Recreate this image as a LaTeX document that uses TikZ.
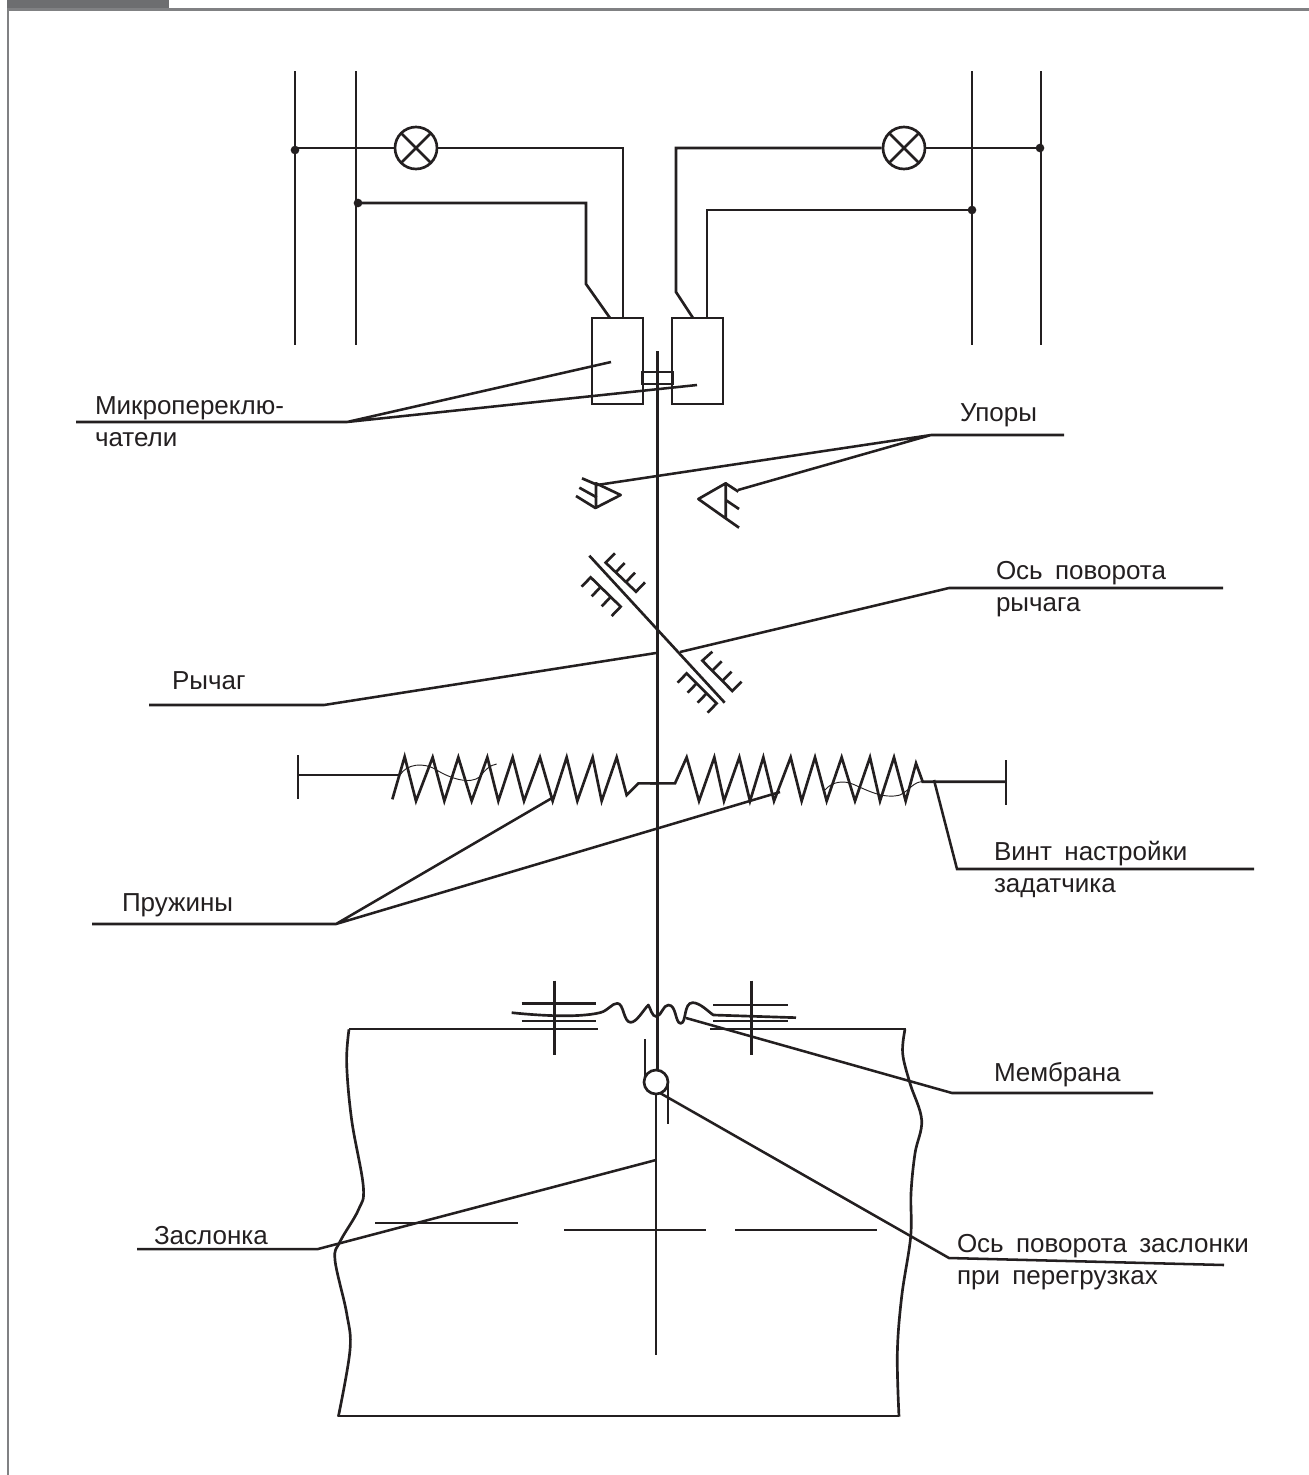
\documentclass[tikz,border=0pt]{standalone}
\usepackage{fontspec}
\setmainfont{Liberation Sans}[WordSpace=1.7]
\definecolor{ink}{HTML}{231F20}
\definecolor{band}{HTML}{6D6E70}
\definecolor{frameline}{HTML}{808183}
\tikzset{
  main/.style={draw=ink,line width=2pt,line join=miter},
  leader/.style={draw=ink,line width=1.9pt},
  thinw/.style={draw=ink,line width=0.7pt},
  lbl/.style={anchor=base west,inner sep=0pt,outer sep=0pt,text=ink,font=\fontsize{19.5}{23}\selectfont},
  lamp/.style={circle,draw=ink,line width=2pt,minimum size=31.5pt,inner sep=0pt,path picture={
     \draw[ink,line width=2pt] (path picture bounding box.south west)--(path picture bounding box.north east)
       (path picture bounding box.north west)--(path picture bounding box.south east);}},
  jdot/.style={circle,fill=ink,inner sep=0pt,minimum size=6.5pt},
  detail/.style={scale=0.33333}
}
\begin{document}
\begin{tikzpicture}[x=0.75pt,y=-0.75pt]
\useasboundingbox (0,0) rectangle (1309,1475);
% page frame
\fill[band] (6.5,0) rectangle (169,8);
\draw[frameline,line width=2.1pt] (8,1475)--(8,9.3)--(1309,9.3);
% rails
\draw[main] (295,71)--(295,345) (356,71)--(356,345) (972,71)--(972,345) (1041,71)--(1041,345);
% lamps
\node[lamp] (lampL) at (416,148) {};
\node[lamp] (lampR) at (904,148) {};
\node[jdot] (d1) at (295,150) {};
\node[jdot] (d2) at (358,203) {};
\node[jdot] (d3) at (1040,148) {};
\node[jdot] (d4) at (972,210) {};
% switches
\node[main,draw,minimum width=38.25pt,minimum height=64.5pt,inner sep=0pt] (swL) at (617.5,361) {};
\node[main,draw,minimum width=38.25pt,minimum height=64.5pt,inner sep=0pt] (swR) at (697.5,361) {};
\node[main,draw,minimum width=23.25pt,minimum height=9pt,inner sep=0pt] (slide) at (657.5,378) {};
% wiring
\draw[main] (d1.center)|-(lampL.west);
\draw[main] (lampL.east)-|(623,318);
\draw[main] (d2.center)-|(586,284)--(610,318);
\draw[main] (lampR.west)-|(676,292)--(693,318);
\draw[main] (lampR.east)--(d3.center);
\draw[main] (d4.center)-|(707,318);
% pivot circle and lever
\node[circle,draw=ink,line width=2pt,minimum size=18pt,inner sep=0pt] (piv) at (656,1082) {};
\draw[main] (657.5,351)--(657.5,1071);
\draw[main] (656,1094)--(656,1355);
\draw[main] (645,1039)--(645,1076) (668,1084)--(668,1124);
% stops
\begin{scope}[shift={(560,300)},detail]
\draw[main,line join=round] (108,550)--(182,585)--(108,623)--cycle;
\draw[main] (66,535)--(108,553) (58,563)--(110,592) (48,588)--(108,625);
\draw[main,line join=round] (415,597)--(497,550)--(497,655)--cycle;
\draw[main] (497,655)--(537,683) (497,600)--(537,627) (497,550)--(535,575);
\end{scope}
% pivot supports
\begin{scope}[shift={(560,540)},detail]
\draw[main] (88,47)--(494,488);
\draw[main] (165,40)--(137,68)--(228,155)--(255,127);
\draw[main] (167,97)--(194,69) (198,126)--(225,98);
\draw[main] (65,140)--(92,112)--(182,200)--(155,228);
\draw[main] (122,141)--(95,169) (152,171)--(125,199);
\draw[main] (457,335)--(427,362)--(517,453)--(545,425);
\draw[main] (457,392)--(485,364) (487,423)--(515,395);
\draw[main] (353,428)--(380,400)--(470,490)--(443,518);
\draw[main] (410,430)--(383,458) (440,460)--(413,488);
\end{scope}
% springs
\draw[main] (298,755)--(298,799);
\begin{scope}[shift={(290,740)},detail]
\draw[main] (25,105)--(328,105);
\draw[main,line join=miter] (307,178)--(344,50)--(378,183)--(428,52)--(463,183)--(505,52)--(545,183)--(592,52)--(625,183)--(668,52)--(702,183)--(750,52)--(788,183)--(830,52)--(862,183)--(908,52)--(935,183)--(980,52)--(1010,165)--(1045,130)--(1105,130);
\draw[thinw] (330,105) .. controls (350,72) and (400,65) .. (440,90) .. controls (480,115) and (540,135) .. (570,110) .. controls (585,90) and (600,75) .. (620,72);
\end{scope}
\begin{scope}[shift={(650,740)},detail]
\draw[main] (0,130)--(75,130)--(110,52)--(147,183)--(193,52)--(222,183)--(268,52)--(300,183)--(340,52)--(372,183)--(422,52)--(455,183)--(495,52)--(530,183)--(575,52)--(615,183)--(660,52)--(690,183)--(732,52)--(767,183)--(798,70)--(818,125)--(1068,125);
\draw[main] (1068,60)--(1068,195);
\draw[thinw] (525,150) .. controls (545,125) and (580,120) .. (610,133) .. controls (650,150) and (700,178) .. (750,165) .. controls (780,150) and (790,125) .. (818,125);
\end{scope}
% membrane
\begin{scope}[shift={(500,970)},detail]
\draw[main] (163,32)--(163,255) (755,32)--(755,255);
\draw[main] (65,100)--(288,100) (65,153)--(288,153) (640,105)--(864,105) (640,153)--(864,153);
\draw[main,line join=round] (35,128) .. controls (100,135) and (230,145) .. (300,128) .. controls (325,122) and (335,100) .. (352,100) .. controls (372,100) and (370,157) .. (392,157) .. controls (410,157) and (430,120) .. (445,105) .. controls (452,115) and (455,140) .. (470,140) .. controls (485,135) and (490,105) .. (505,105) .. controls (530,105) and (525,160) .. (542,160) .. controls (560,160) and (550,98) .. (578,98) .. controls (600,98) and (625,125) .. (640,135) -- (888,143);
\end{scope}
% housing
\draw[main] (349,1029)--(598,1029) (710,1029)--(906,1029);
\begin{scope}[shift={(300,1020)},detail]
\draw[main] plot[smooth,tension=0.6] coordinates {(147,28) (140,130) (155,300) (190,500) (175,570) (120,665) (105,720) (140,880) (150,990) (115,1190)};
\end{scope}
\begin{scope}[shift={(860,1020)},detail]
\draw[main] plot[smooth,tension=0.6] coordinates {(135,28) (128,100) (150,190) (185,300) (165,400) (153,520) (152,650) (125,830) (112,1000) (117,1190)};
\end{scope}
\draw[main] (338,1416)--(899,1416);
% flap
\draw[main] (375,1223)--(518,1223) (564,1230)--(706,1230) (735,1230)--(877,1230);
% leaders and labels
\node[lbl] (t1) at (95,414) {Микропереклю-};
\node[lbl] (t1b) at (95,446) {чатели};
\coordinate (a1) at (76,422); \coordinate (a1k) at (347,422);
\draw[leader] (a1)--(a1k)--(611,362) (a1k)--(697,385);
\node[lbl] (t2) at (960,421) {Упоры};
\coordinate (a2) at (1064,435); \coordinate (a2k) at (931,435);
\draw[leader] (a2)--(a2k)--(597,485) (a2k)--(738,490);
\node[lbl] (t3) at (996,579) {Ось поворота};
\node[lbl] (t3b) at (996,611) {рычага};
\draw[leader] (1223,588)--(949,588)--(680,652);
\node[lbl] (t4) at (172,689) {Рычаг};
\draw[leader] (149,705)--(324,705)--(656,653);
\node[lbl] (t5) at (122,911) {Пружины};
\draw[leader] (92,924)--(336,924)--(552,798) (336,924)--(780,792);
\node[lbl] (t6) at (994,860) {Винт настройки};
\node[lbl] (t6b) at (994,892) {задатчика};
\draw[leader] (1254,869)--(957,869)--(934,780);
\node[lbl] (t7) at (994,1081) {Мембрана};
\draw[leader] (1153,1093)--(952,1093)--(686,1018);
\node[lbl] (t8) at (154,1244) {Заслонка};
\draw[leader] (137,1249)--(318,1249)--(656,1160);
\node[lbl] (t9) at (957,1252) {Ось поворота заслонки};
\node[lbl] (t9b) at (957,1284) {при перегрузках};
\draw[leader] (1224,1265)--(949,1258)--(660,1093);
\end{tikzpicture}
\end{document}
